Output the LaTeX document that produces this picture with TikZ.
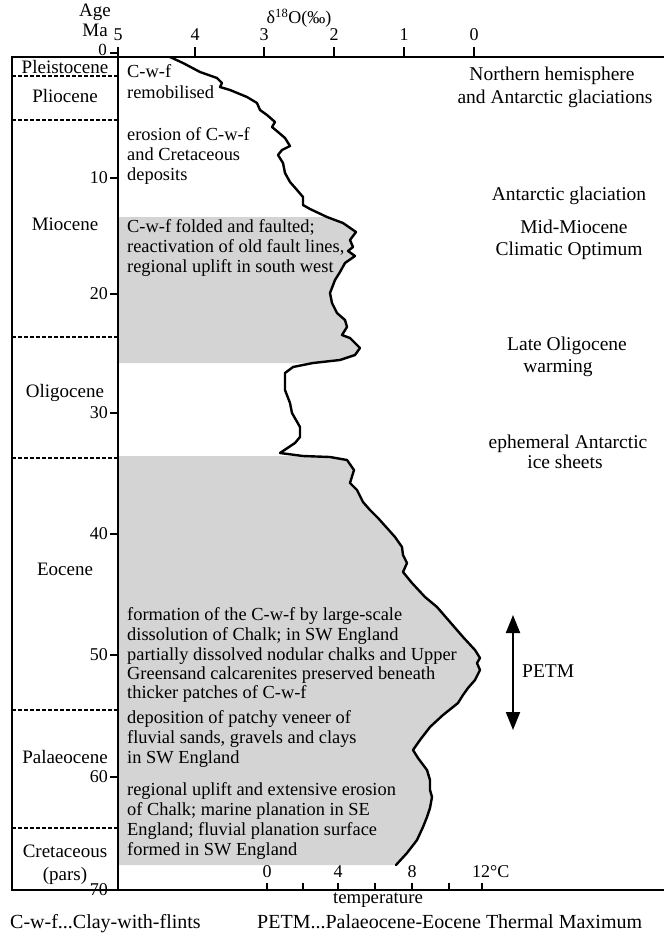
\documentclass[tikz,border=0pt]{standalone}
\usepackage{fontspec}
\setmainfont{Liberation Serif}
\usetikzlibrary{arrows.meta}
\definecolor{bandgray}{RGB}{212,212,212}
\begin{document}
\begin{tikzpicture}[x=1pt,y=-1pt,
  evtext/.style={anchor=base west, inner sep=0pt, font=\fontsize{18.4}{20}\selectfont},
  epoch/.style={anchor=base, inner sep=0pt, font=\fontsize{19}{21}\selectfont},
  rlabel/.style={anchor=base, inner sep=0pt, font=\fontsize{19.5}{21}\selectfont},
  axnum/.style={inner sep=0pt, font=\fontsize{18}{20}\selectfont},
  legend/.style={anchor=base west, inner sep=0pt, font=\fontsize{20}{22}\selectfont},
  frame/.style={line width=1.8pt},
  tick/.style={line width=1.5pt},
  sep/.style={line width=1.6pt, dash pattern=on 4pt off 2pt},
  curve/.style={line width=2.4pt, line join=round, line cap=round}]

\useasboundingbox (0,0) rectangle (664,937);
\fill[white] (0,0) rectangle (664,937);

% shaded bands
\fill[bandgray] (118,217) -- (327,217) -- (343,223) -- (356,232) -- (350,240) -- (353,247) -- (348,251) -- (355,256) -- (345,263) -- (340,272) -- (335,280) -- (330,293) -- (332,303) -- (337,313) -- (345,320) -- (347,327) -- (342,335) -- (350,338) -- (360,348) -- (355,355) -- (340,360) -- (313,363) -- (118,363) -- cycle;
\fill[bandgray] (118,456) -- (300,456) -- (330,457) -- (347,460) -- (354,470) -- (350,483) -- (357,490) -- (363,502) -- (370,510) -- (378,518) -- (387,528) -- (395,537) -- (402,547) -- (403,555) -- (407,563) -- (403,572) -- (412,583) -- (425,597) -- (437,607) -- (450,622) -- (463,637) -- (475,650) -- (480,658) -- (477,663) -- (480,670) -- (475,680) -- (468,688) -- (463,695) -- (458,703) -- (443,715) -- (430,727) -- (420,740) -- (413,750) -- (418,758) -- (427,770) -- (430,780) -- (430,790) -- (432,797) -- (430,808) -- (427,817) -- (423,827) -- (417,840) -- (407,853) -- (396,865) -- (118,865) -- cycle;

% isotope curve
\draw[curve] plot coordinates {(170,57) (183,63) (200,72) (217,78) (222,83) (220,87) (230,90) (247,97) (257,103) (260,110) (267,115) (275,122) (272,127) (278,132) (285,138) (290,146) (282,150) (278,155) (283,163) (285,173) (290,182) (297,190) (303,197) (303,205) (310,209) (327,217) (343,223) (356,232) (350,240) (353,247) (348,251) (355,256) (345,263) (340,272) (335,280) (330,293) (332,303) (337,313) (345,320) (347,327) (342,335) (350,338) (360,348) (355,355) (340,360) (313,363) (293,367) (285,373) (285,390) (290,403) (292,413) (300,427) (300,437) (295,443) (280,453) (303,456) (330,457) (347,460) (354,470) (350,483) (357,490) (363,502) (370,510) (378,518) (387,528) (395,537) (402,547) (403,555) (407,563) (403,572) (412,583) (425,597) (437,607) (450,622) (463,637) (475,650) (480,658) (477,663) (480,670) (475,680) (468,688) (463,695) (458,703) (443,715) (430,727) (420,740) (413,750) (418,758) (427,770) (430,780) (430,790) (432,797) (430,808) (427,817) (423,827) (417,840) (407,853) (396,865)};

% epoch separators
\foreach \y in {76,120,337,458,710,828} \draw[sep] (12,\y) -- (118,\y);

% frame
\draw[frame] (664,57) -- (12,57) -- (12,890) -- (664,890);
\draw[frame] (118,57) -- (118,890);

% top axis
\foreach \x/\t in {118/5,195/4,264/3,334/2,404/1,474/0} {
  \draw[tick] (\x,47) -- (\x,57);
  \node[axnum] (d\t) at (\x,35) {\t};
}
\node[axnum, font=\fontsize{19}{21}\selectfont] (agelab) at (95,12) {Age};
\node[axnum, font=\fontsize{19}{21}\selectfont, anchor=east] (malab) at (108,30) {Ma};
\node[axnum] (dlab) at (299,18) {δ\textsuperscript{18}O(‰)};

% age axis
\draw[tick] (110,53) -- (118,53);
\node[axnum, anchor=east, font=\fontsize{17}{19}\selectfont] (a0) at (107,50) {0};
\foreach \y/\t in {178/10,294/20,413/30,534/40,655/50,777/60,890/70} {
  \draw[tick] (110,\y) -- (118,\y);
  \node[axnum, anchor=east] (a\t) at (108,\y) {\t};
}

% temperature axis
\foreach \x in {267,303,338,375,412,449,482} \draw[tick] (\x,883) -- (\x,890);
\node[axnum] (t0) at (267,872) {0};
\node[axnum] (t4) at (338,872) {4};
\node[axnum] (t8) at (412,872) {8};
\node[axnum, anchor=west] (t12) at (472,872) {12°C};
\node[axnum, font=\fontsize{18.8}{20}\selectfont] (templab) at (378,900) {temperature};

% epochs
\node[epoch] (e1) at (65,73) {Pleistocene};
\node[epoch] (e2) at (65,102) {Pliocene};
\node[epoch] (e3) at (65,230) {Miocene};
\node[epoch] (e4) at (65,397) {Oligocene};
\node[epoch] (e5) at (65,575) {Eocene};
\node[epoch] (e6) at (65,763) {Palaeocene};
\node[epoch] (e7) at (65,857) {Cretaceous};
\node[epoch] (e8) at (65,880) {(pars)};

% events
\node[evtext] (ta1) at (127,77) {C-w-f};
\node[evtext] (ta2) at (127,98) {remobilised};
\node[evtext] (tb1) at (127,140) {erosion of C-w-f};
\node[evtext] (tb2) at (127,160) {and Cretaceous};
\node[evtext] (tb3) at (127,180) {deposits};
\node[evtext] (tc1) at (127,232) {C-w-f folded and faulted;};
\node[evtext] (tc2) at (127,252) {reactivation of old fault lines,};
\node[evtext] (tc3) at (127,272) {regional uplift in south west};
\node[evtext] (td1) at (127,620) {formation of the C-w-f by large-scale};
\node[evtext] (td2) at (127,640) {dissolution of Chalk; in SW England};
\node[evtext] (td3) at (127,660) {partially dissolved nodular chalks and Upper};
\node[evtext] (td4) at (127,679) {Greensand calcarenites preserved beneath};
\node[evtext] (td5) at (127,698) {thicker patches of C-w-f};
\node[evtext] (te1) at (127,723) {deposition of patchy veneer of};
\node[evtext] (te2) at (127,743) {fluvial sands, gravels and clays};
\node[evtext] (te3) at (127,763) {in SW England};
\node[evtext] (tf1) at (127,795) {regional uplift and extensive erosion};
\node[evtext] (tf2) at (127,815) {of Chalk; marine planation in SE};
\node[evtext] (tf3) at (127,835) {England; fluvial planation surface};
\node[evtext] (tf4) at (127,855) {formed in SW England};

% climate labels
\node[rlabel] (nh1) at (552,80) {Northern hemisphere};
\node[rlabel] (nh2) at (555,103) {and Antarctic glaciations};
\node[rlabel] (ag) at (569,200) {Antarctic glaciation};
\node[rlabel] (mm1) at (574,233) {Mid-Miocene};
\node[rlabel] (mm2) at (569,255) {Climatic Optimum};
\node[rlabel] (lo1) at (567,350) {Late Oligocene};
\node[rlabel] (lo2) at (558,372) {warming};
\node[rlabel] (ea1) at (568,448) {ephemeral Antarctic};
\node[rlabel] (ea2) at (565,468) {ice sheets};

% PETM arrow
\coordinate (petmtop) at (513,615);
\coordinate (petmbot) at (513,730);
\draw[line width=2pt, {Triangle[length=18pt,width=14pt]}-{Triangle[length=18pt,width=14pt]}] (petmtop) -- (petmbot);
\node[rlabel, anchor=base west] (petm) at (522,677) {PETM};

% legend
\node[legend] (leg1) at (10,928) {C-w-f...Clay-with-flints};
\node[legend] (leg2) at (257,928) {PETM...Palaeocene-Eocene Thermal Maximum};
\end{tikzpicture}
\end{document}
